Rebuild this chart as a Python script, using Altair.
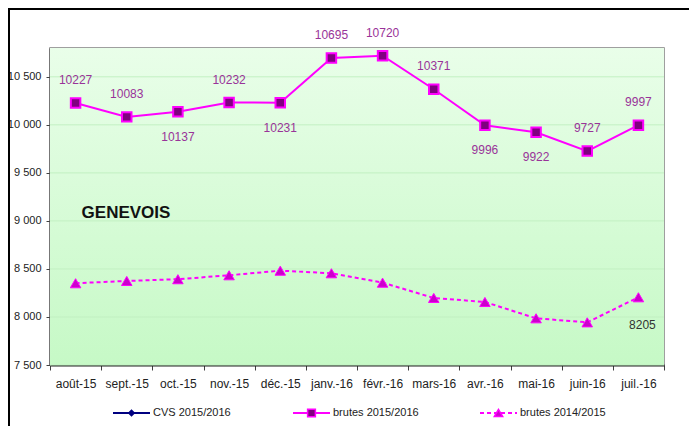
import altair as alt
import pandas as pd

months = ["août-15", "sept.-15", "oct.-15", "nov.-15", "déc.-15", "janv.-16",
          "févr.-16", "mars-16", "avr.-16", "mai-16", "juin-16", "juil.-16"]
brutes_1516 = [10227, 10083, 10137, 10232, 10231, 10695, 10720, 10371, 9996, 9922, 9727, 9997]
brutes_1415 = [8351, 8375, 8393, 8434, 8482, 8455, 8357, 8198, 8156, 7986, 7944, 8205]
label_side_1516 = ["above", "above", "below", "above", "below", "above",
                   "above", "above", "below", "below", "above", "above"]
show_label_1415 = [False] * 11 + [True]
y_ticks = [7500, 8000, 8500, 9000, 9500, 10000, 10500]
legend_labels = ["CVS 2015/2016", "brutes 2015/2016", "brutes 2014/2015"]
title_text = "GENEVOIS"

FONT = "Liberation Sans"
W, H = 614, 317
MAG = "#ff00ff"
LBL = "#993399"

df = pd.DataFrame({
    "mois": months,
    "b1516": brutes_1516,
    "b1415": brutes_1415,
    "side": label_side_1516,
    "show": show_label_1415,
})
grid_df = pd.DataFrame({"v": y_ticks})
one = pd.DataFrame({"k": [0]})

xaxis = alt.Axis(title=None, labelAngle=0, tickBand="extent", tickSize=5,
                 tickColor="#404040", domainColor="#202020", domainWidth=2,
                 labelFont=FONT, labelFontSize=12, labelColor="#222222",
                 labelPadding=8, grid=False)
xscale = alt.Scale(type="band", domain=months, paddingInner=0, paddingOuter=0)
yscale = alt.Scale(domain=[7500, 10800], nice=False, zero=False)
yaxis = alt.Axis(title=None, values=y_ticks, grid=False, tickSize=4, tickColor="#404040",
                 domainColor="#505050", domainWidth=2, labelFont=FONT, labelFontSize=11,
                 labelColor="#222222", labelPadding=5,
                 labelExpr="replace(format(datum.value, ','), ',', ' ')")


def X():
    return alt.X("mois:N", sort=months, scale=xscale, axis=xaxis)


def Y(field):
    return alt.Y(field, scale=yscale, axis=yaxis)


bg = alt.Chart(one).mark_rect(
    color=alt.Gradient(gradient="linear",
                       stops=[alt.GradientStop(color="#e9fee9", offset=0),
                              alt.GradientStop(color="#c6f9c6", offset=1)],
                       x1=0, x2=0, y1=0, y2=1)
).encode(x=alt.value(0), x2=alt.value(W), y=alt.value(0), y2=alt.value(H))

grid = alt.Chart(grid_df).mark_rule(color="#c2f0c2", strokeWidth=1).encode(y=Y("v:Q"))

line1 = alt.Chart(df).mark_line(color=MAG, strokeWidth=2).encode(x=X(), y=Y("b1516:Q"))
pts1 = alt.Chart(df).mark_point(shape="square", size=90, filled=True, fill="#800080",
                                stroke=MAG, strokeWidth=2, opacity=1).encode(
    x=X(), y=Y("b1516:Q"))
lab_up = alt.Chart(df).transform_filter("datum.side == 'above'").mark_text(
    font=FONT, fontSize=12, color=LBL, dy=-23, baseline="middle").encode(
    x=X(), y=Y("b1516:Q"), text="b1516:Q")
lab_dn = alt.Chart(df).transform_filter("datum.side == 'below'").mark_text(
    font=FONT, fontSize=12, color=LBL, dy=25, baseline="middle").encode(
    x=X(), y=Y("b1516:Q"), text="b1516:Q")

line2 = alt.Chart(df).mark_line(color=MAG, strokeWidth=2, strokeDash=[4, 3]).encode(
    x=X(), y=Y("b1415:Q"))
pts2 = alt.Chart(df).mark_point(shape="triangle-up", size=110, filled=True, fill="#cc00cc",
                                stroke=MAG, strokeWidth=1, opacity=1).encode(
    x=X(), y=Y("b1415:Q"))
lab2 = alt.Chart(df).transform_filter("datum.show").mark_text(
    font=FONT, fontSize=12, color="#333333", dy=28, dx=4, baseline="middle").encode(
    x=X(), y=Y("b1415:Q"), text="b1415:Q")

title = alt.Chart(one).mark_text(font=FONT, fontSize=17, fontWeight="bold", color="#111111",
                                 align="center", baseline="middle").encode(
    x=alt.value(76), y=alt.value(165), text=alt.value(title_text))

# outer frame
frame_top = alt.Chart(one).mark_rule(color="black", strokeWidth=2, clip=False).encode(
    x=alt.value(-42), x2=alt.value(640), y=alt.value(-39))
frame_left = alt.Chart(one).mark_rule(color="black", strokeWidth=2, clip=False).encode(
    x=alt.value(-41), y=alt.value(-40), y2=alt.value(380))

# legend
leg_layers = []
leg_styles = [
    dict(x0=63, color="#000080", dash=[1, 0], shape="diamond", fill="#000080", size=30),
    dict(x0=243, color=MAG, dash=[1, 0], shape="square", fill="#800080", size=60),
    dict(x0=430, color=MAG, dash=[4, 3], shape="triangle-up", fill="#cc00cc", size=70),
]
LY = 365
for lab, st in zip(legend_labels, leg_styles):
    leg_layers.append(alt.Chart(one).mark_rule(color=st["color"], strokeWidth=2,
                                               strokeDash=st["dash"], clip=False).encode(
        x=alt.value(st["x0"]), x2=alt.value(st["x0"] + 37), y=alt.value(LY)))
    leg_layers.append(alt.Chart(one).mark_point(shape=st["shape"], size=st["size"], filled=True,
                                                fill=st["fill"], stroke=st["color"],
                                                strokeWidth=1.5, opacity=1, clip=False).encode(
        x=alt.value(st["x0"] + 18.5), y=alt.value(LY)))
    leg_layers.append(alt.Chart(one).mark_text(font=FONT, fontSize=11, color="#222222",
                                               align="left", baseline="middle").encode(
        x=alt.value(st["x0"] + 40), y=alt.value(LY), text=alt.value(lab)))

chart = alt.layer(
    bg, grid, line2, pts2, line1, pts1, lab_up, lab_dn, lab2, title,
    frame_top, frame_left, *leg_layers
).properties(
    width=W, height=H,
    padding={"left": 42, "top": 40, "right": 25, "bottom": 61},
    autosize=alt.AutoSizeParams(type="none"),
    background="white",
).configure_view(stroke="#808080", strokeWidth=1.5)

chart.save("out.html", embed_options={"renderer": "svg", "actions": False})
